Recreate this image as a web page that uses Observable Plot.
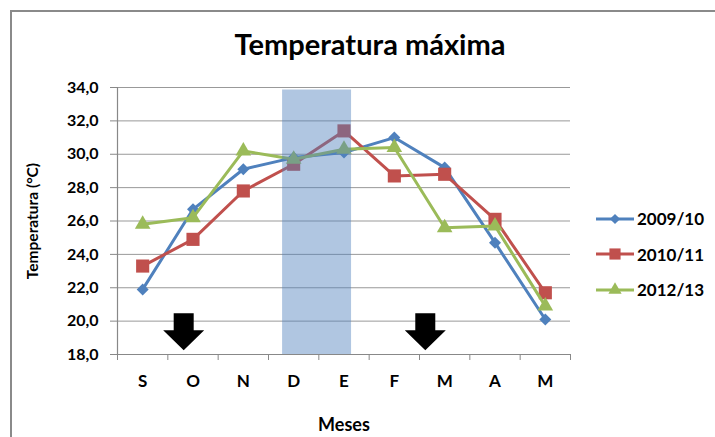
<!DOCTYPE html>
<html>
<head>
<meta charset="utf-8">
<script src="https://cdn.jsdelivr.net/npm/d3@7"></script>
<script src="https://cdn.jsdelivr.net/npm/@observablehq/plot@0.6"></script>
<style>
  html, body { margin: 0; padding: 0; background: #fff; overflow: hidden; }
  body { width: 715px; height: 437px; position: relative; font-family: Lato, "Open Sans", sans-serif; }
  #frame { position: absolute; left: 10px; top: 10px; width: 800px; height: 500px;
           border-left: 2px solid #8a8a8a; border-top: 2px solid #8a8a8a; }
  #title { position: absolute; left: 0; top: 29px; width: 740px; text-align: center;
           font-weight: 700; font-size: 29px; line-height: 29px; color: #000; }
  #chart { position: absolute; left: 0; top: 0; }
  #legend { position: absolute; left: 596px; top: 201px; }
  #legend .row { display: flex; align-items: center; height: 35.5px; }
  #legend svg { display: block; margin-right: 3px; }
  #legend span { font-weight: 700; font-size: 17px; color: #000; }
</style>
</head>
<body>
<div id="frame"></div>
<div id="chart"></div>
<div id="title">Temperatura máxima</div>
<div id="legend"></div>
<script>
// Months of the season (September to May)
const months = ["S", "O", "N", "D", "E", "F", "M", "A", "M"];

// Mean maximum temperature (°C) per season
const seasons = ["2009/10", "2010/11", "2012/13"];
const temp0910 = [21.9, 26.7, 29.1, 29.8, 30.1, 31.0, 29.2, 24.7, 20.1];
const temp1011 = [23.3, 24.9, 27.8, 29.4, 31.4, 28.7, 28.8, 26.1, 21.7];
const temp1213 = [25.8, 26.2, 30.2, 29.7, 30.3, 30.4, 25.6, 25.7, 20.9];
const seriesValues = [temp0910, temp1011, temp1213];
const seriesColors = ["#4F81BD", "#C0504D", "#9BBB59"];
const seriesSymbols = ["diamond2", "square", "triangle"];
const seriesRadius = [5.4, 7.4, 5.8];

// Y axis ticks
const yTicks = [18, 20, 22, 24, 26, 28, 30, 32, 34];

// Highlighted summer span (month index units) and its top (°C)
const highlightFrom = 2.78;
const highlightTo = 4.15;
const highlightTop = 33.85;

// Down arrows marking months of interest (month index, tip temperature)
const arrowAt = [0.815, 5.615];
const arrowTip = 18.26;

// Block arrow pointing down, tip at the anchor point
const blockArrow = {
  draw(ctx) {
    ctx.moveTo(0, 0);
    ctx.lineTo(-20.5, -20);
    ctx.lineTo(-10, -20);
    ctx.lineTo(-10, -37);
    ctx.lineTo(10, -37);
    ctx.lineTo(10, -20);
    ctx.lineTo(20.5, -20);
    ctx.closePath();
  }
};

const fmt = d => d.toFixed(1).replace(".", ",");

const seriesMarks = seasons.flatMap((s, k) => {
  const rows = months.map((m, i) => ({i, v: seriesValues[k][i]}));
  return [
    Plot.line(rows, {x: "i", y: "v", stroke: seriesColors[k], strokeWidth: 3}),
    Plot.dot(rows, {x: "i", y: "v", fill: seriesColors[k], stroke: "none",
                    symbol: seriesSymbols[k], r: seriesRadius[k]})
  ];
});

const chart = Plot.plot({
  width: 715,
  height: 437,
  marginLeft: 117,
  marginRight: 145,
  marginTop: 87,
  marginBottom: 83,
  style: {fontFamily: "Lato, 'Open Sans', sans-serif", fontSize: "16px", fontWeight: "700", color: "#000", background: "transparent"},
  x: {type: "linear", domain: [-0.5, months.length - 0.5]},
  y: {domain: [18, 34]},
  marks: [
    Plot.gridY(yTicks.slice(1), {stroke: "#999", strokeOpacity: 1, strokeWidth: 1}),
    Plot.ruleX([-0.5], {stroke: "#888", strokeWidth: 1.2}),
    Plot.ruleY([18], {stroke: "#888", strokeWidth: 1.2}),
    Plot.axisY({ticks: yTicks, tickFormat: fmt, tickSize: 7, tickPadding: 12, stroke: "#888", fill: "#000"}),
    Plot.axisX({ticks: d3.range(-0.5, months.length + 0.5, 1), tickFormat: () => "", tickSize: 6, stroke: "#888"}),
    Plot.axisX({ticks: d3.range(months.length), tickFormat: i => months[i], tickSize: 0, tickPadding: 20, fontSize: 17, fill: "#000"}),
    ...seriesMarks,
    Plot.rect([{x1: highlightFrom, x2: highlightTo, y1: 18, y2: highlightTop}],
              {x1: "x1", x2: "x2", y1: "y1", y2: "y2", fill: "#4F81BD", fillOpacity: 0.45}),
    Plot.dot(arrowAt, {x: d => d, y: () => arrowTip, symbol: blockArrow, fill: "#000", stroke: "none", r: 10}),
    Plot.text(["Meses"], {frameAnchor: "bottom", dy: 76, fontSize: 18, fontWeight: 700, fill: "#000"}),
    Plot.text(["Temperatura (°C)"], {frameAnchor: "left", textAnchor: "middle", dx: -84, rotate: -90, fontSize: 15.5, fontWeight: 700, fill: "#000"})
  ]
});
document.getElementById("chart").appendChild(chart);

// Legend: line with marker plus season label
const legend = d3.select("#legend");
seasons.forEach((s, k) => {
  const row = legend.append("div").attr("class", "row");
  const svg = row.append("svg").attr("width", 38).attr("height", 20);
  svg.append("line").attr("x1", 0).attr("x2", 38).attr("y1", 10).attr("y2", 10)
    .attr("stroke", seriesColors[k]).attr("stroke-width", 3);
  const sym = {diamond2: d3.symbolDiamond2, square: d3.symbolSquare, triangle: d3.symbolTriangle}[seriesSymbols[k]];
  const r = seriesRadius[k] * 0.85;
  svg.append("path").attr("transform", "translate(19,10)")
    .attr("d", d3.symbol(sym, r * r * Math.PI)()).attr("fill", seriesColors[k]);
  row.append("span").text(s);
});
</script>
</body>
</html>
